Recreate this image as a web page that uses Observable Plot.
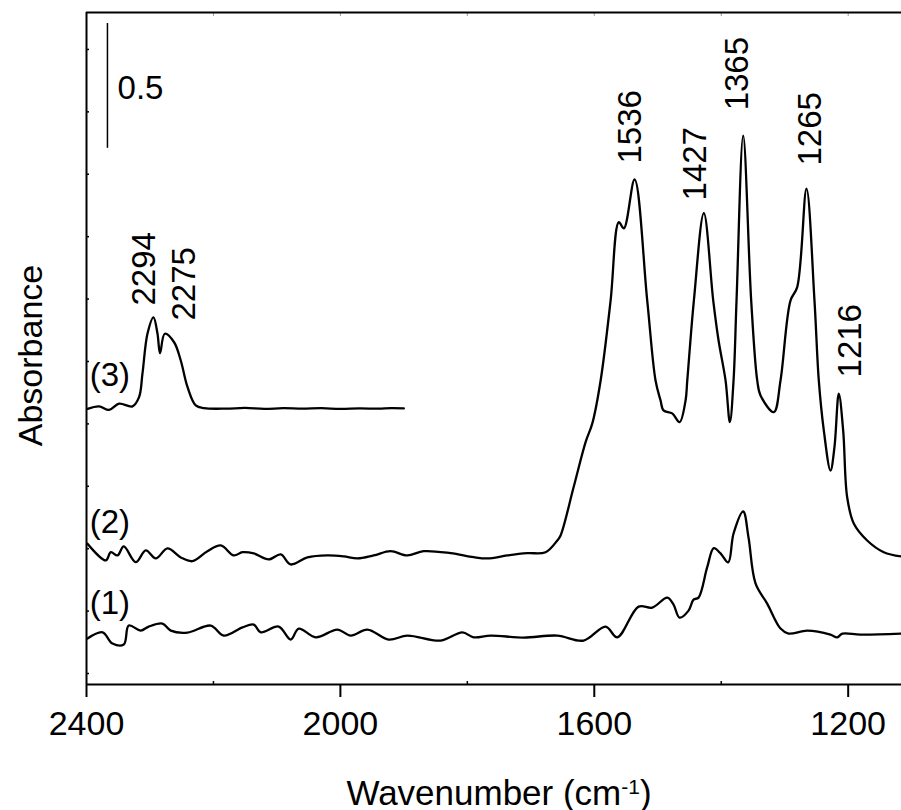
<!DOCTYPE html>
<html><head><meta charset="utf-8">
<script src="https://cdn.jsdelivr.net/npm/d3@7"></script>
<script src="https://cdn.jsdelivr.net/npm/@observablehq/plot@0.6"></script>
<style>body{margin:0;background:#fff} svg{display:block}</style>
</head><body><div id="chart"></div>
<script>
// ---- axes ----
const xDomain = [2400, 1116];
const yDomain = [-0.044, 2.648];
const xMajorTicks = [2400, 2000, 1600, 1200];
const xMinorTicks = [2200, 1800, 1400];
const yTicks = [0, 0.25, 0.5, 0.75, 1, 1.25, 1.5, 1.75, 2, 2.25, 2.5];

// ---- trace (1) ----
const trace1Wn = [2398.4,2374.8,2359.1,2341.3,2333.4,2314.5,2301.9,2280.3,2267.2,2240.9,2204.3,2183.8,2154.3,2136.5,2125.5,2097.2,2078.3,2065.7,2038.9,2004.7,1983.8,1957.5,1923.9,1894.5,1842.0,1807.9,1790.1,1763.3,1711.3,1658.3,1616.9,1582.2,1563.8,1530.2,1508.7,1485.0,1475.1,1465.7,1451.5,1443.6,1435.8,1422.1,1411.7,1401.1,1389.0,1380.6,1365.4,1357.0,1346.0,1327.6,1306.6,1294.0,1264.6,1227.9,1217.3,1209.0,1180.6,1116.1];
const trace1Abs = [0.140,0.165,0.120,0.116,0.192,0.172,0.188,0.200,0.172,0.164,0.192,0.152,0.185,0.196,0.165,0.188,0.136,0.180,0.145,0.176,0.152,0.176,0.136,0.152,0.132,0.165,0.145,0.152,0.144,0.152,0.132,0.188,0.145,0.268,0.264,0.304,0.276,0.224,0.252,0.296,0.304,0.426,0.502,0.481,0.445,0.561,0.649,0.545,0.361,0.280,0.180,0.160,0.172,0.156,0.145,0.160,0.156,0.160];

// ---- trace (2) ----
const trace2Wn = [2398.4,2369.6,2361.7,2351.2,2341.3,2322.4,2306.6,2290.9,2272.4,2251.5,2233.1,2209.5,2188.5,2168.0,2154.3,2136.5,2112.9,2094.0,2078.3,2052.0,2020.5,1994.8,1973.2,1947.6,1920.8,1894.5,1868.8,1826.3,1790.1,1768.5,1737.0,1705.5,1676.7,1658.3,1653.1,1632.6,1613.7,1603.1,1590.0,1574.3,1561.3,1553.4,1536.5,1516.6,1503.5,1495.6,1490.9,1477.2,1465.7,1456.2,1453.5,1443.1,1427.4,1412.6,1404.2,1393.2,1386.4,1380.6,1375.9,1365.4,1352.8,1343.3,1338.1,1317.2,1306.6,1290.9,1280.3,1265.7,1253.1,1246.3,1238.4,1227.9,1221.6,1214.8,1207.9,1201.6,1191.2,1170.1,1143.9,1116.1];
const trace2Abs = [0.520,0.453,0.486,0.473,0.509,0.446,0.493,0.461,0.501,0.465,0.450,0.490,0.513,0.473,0.486,0.481,0.457,0.477,0.437,0.465,0.473,0.469,0.461,0.473,0.490,0.473,0.490,0.482,0.466,0.461,0.473,0.482,0.486,0.533,0.553,0.746,0.927,1.002,1.174,1.494,1.808,1.783,1.979,1.494,1.174,1.094,1.054,1.042,1.007,1.094,1.174,1.494,1.844,1.494,1.334,1.174,1.007,1.174,1.494,2.155,1.494,1.174,1.114,1.047,1.174,1.494,1.548,1.942,1.494,1.174,0.974,0.813,0.907,1.121,0.974,0.706,0.601,0.533,0.486,0.469];

// ---- trace (3) ----
const trace3Wn = [2398.4,2380.2,2364.4,2348.7,2327.6,2317.2,2311.8,2303.9,2294.5,2288.2,2284.1,2276.7,2262.0,2251.5,2240.9,2227.9,2214.8,2180,2150,2120,2090,2060,2030,2000,1970,1940,1920,1900];
const trace3Abs = [1.060,1.070,1.056,1.081,1.070,1.107,1.202,1.362,1.427,1.362,1.283,1.361,1.327,1.254,1.148,1.074,1.063,1.061,1.064,1.060,1.063,1.061,1.063,1.060,1.062,1.061,1.063,1.062];

// ---- annotations ----
const peakLabels = ["2294","2275","1536","1427","1365","1265","1216"];
const peakLabelWn = [2309.5,2246,1543.6,1441.3,1375.1,1260.2,1197.2];
const peakLabelAbs = [1.474,1.414,2.043,1.895,2.256,2.035,1.186];
const curveLabels = ["(1)","(2)","(3)"];
const curveLabelWn = [2395,2395,2395];
const curveLabelAbs = [0.240,0.562,1.150];
const scaleBarWn = [2367];
const scaleBarBase = [2.104];
const scaleBarLength = [0.5];
const scaleBarText = ["0.5"];
const scaleBarTextWn = [2351];
const scaleBarTextAbs = [2.302];
const xTitle = "Wavenumber (cm-1)";
const yTitle = "Absorbance";

const rows = (wn, ab) => wn.map((w, i) => ({wn: w, abs: ab[i]}));
const peaks = peakLabels.map((t, i) => ({t, wn: peakLabelWn[i], abs: peakLabelAbs[i]}));
const curves = curveLabels.map((t, i) => ({t, wn: curveLabelWn[i], abs: curveLabelAbs[i]}));
const bar = scaleBarWn.map((w, i) => ({wn: w, y1: scaleBarBase[i], y2: scaleBarBase[i] + scaleBarLength[i]}));
const barText = scaleBarText.map((t, i) => ({t, wn: scaleBarTextWn[i], abs: scaleBarTextAbs[i]}));

const font = "'Liberation Sans', Arial, Helvetica, sans-serif";
const lineOpts = {x: "wn", y: "abs", stroke: "#000", strokeWidth: 2.3, curve: "catmull-rom"};

const chart = Plot.plot({
  width: 901, height: 810,
  marginLeft: 86, marginRight: 0, marginTop: 12, marginBottom: 126,
  style: {fontFamily: font, fontSize: "34px", color: "#000", background: "#fff"},
  x: {domain: xDomain},
  y: {domain: yDomain},
  marks: [
    Plot.axisX({ticks: xMajorTicks, tickSize: 13, tickPadding: 13, tickFormat: d => String(d), fontSize: 34, label: null, strokeWidth: 2}),
    Plot.axisX({ticks: xMinorTicks, tickSize: 3, dy: -3, tickFormat: () => "", label: null, strokeWidth: 1.5}),
    Plot.axisX({anchor: "top", ticks: xMajorTicks.concat(xMinorTicks), tickSize: 3, dy: 3, tickFormat: () => "", label: null, stroke: "#999", strokeWidth: 1}),
    Plot.axisY({ticks: yTicks, tickSize: 3, dx: 3, tickFormat: () => "", label: null, strokeWidth: 1.5}),
    Plot.ruleX([xDomain[0]], {stroke: "#000", strokeWidth: 2}),
    Plot.ruleY([yDomain[0]], {stroke: "#000", strokeWidth: 2}),
    Plot.ruleY([yDomain[1]], {stroke: "#000", strokeWidth: 2}),
    Plot.line(rows(trace1Wn, trace1Abs), lineOpts),
    Plot.line(rows(trace2Wn, trace2Abs), lineOpts),
    Plot.line(rows(trace3Wn, trace3Abs), lineOpts),
    Plot.ruleX(bar, {x: "wn", y1: "y1", y2: "y2", stroke: "#000", strokeWidth: 1.5}),
    Plot.text(barText, {x: "wn", y: "abs", text: "t", textAnchor: "start", lineAnchor: "bottom", fontSize: 33, fill: "#000"}),
    Plot.text(peaks, {x: "wn", y: "abs", text: "t", rotate: -90, textAnchor: "start", lineAnchor: "middle", fontSize: 33, fill: "#000"}),
    Plot.text(curves, {x: "wn", y: "abs", text: "t", textAnchor: "start", lineAnchor: "bottom", fontSize: 33, fill: "#000"}),
    Plot.text([yTitle], {frameAnchor: "left", rotate: -90, dx: -55, dy: 7, textAnchor: "middle", lineAnchor: "middle", fontSize: 34, fill: "#000"}),
    Plot.text([xTitle], {frameAnchor: "bottom", dx: 5, dy: 120, textAnchor: "middle", lineAnchor: "bottom", fontSize: 35, fill: "#000"})
  ]
});
document.getElementById("chart").appendChild(chart);

// superscript for the x title
d3.select(chart).selectAll("text").filter(function() { return this.textContent === xTitle; }).each(function() {
  const t = d3.select(this);
  t.text(null);
  t.append("tspan").text("Wavenumber (cm");
  t.append("tspan").attr("dy", "-0.5em").attr("font-size", "0.6em").text("-1");
  t.append("tspan").attr("dy", "0.3em").text(")");
});
</script>
</body></html>
